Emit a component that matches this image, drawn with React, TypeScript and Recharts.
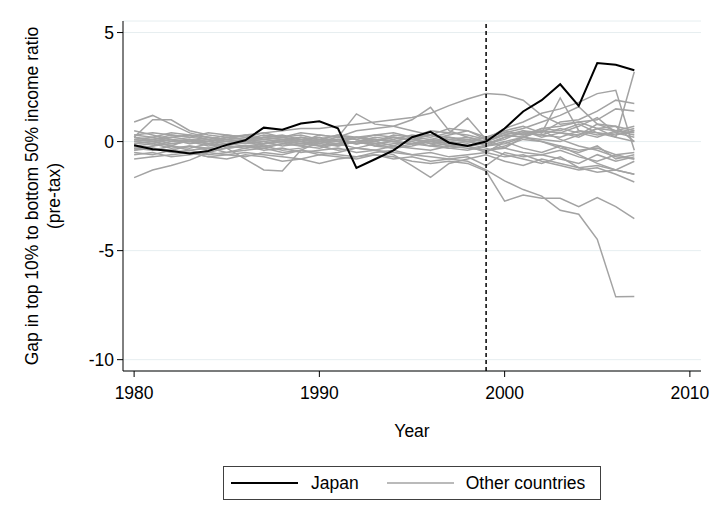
import { LineChart, Line, XAxis, YAxis, CartesianGrid, ReferenceLine, Legend } from 'recharts'

const FONT = '"Liberation Sans", Arial, sans-serif'
const GREY = '#a3a3a3'

const years = [1980,1981,1982,1983,1984,1985,1986,1987,1988,1989,1990,1991,1992,1993,1994,1995,1996,1997,1998,1999,2000,2001,2002,2003,2004,2005,2006,2007]

const japan = [-0.17,-0.35,-0.43,-0.54,-0.43,-0.15,0.06,0.64,0.54,0.83,0.93,0.61,-1.21,-0.81,-0.4,0.2,0.45,-0.05,-0.2,0.0,0.6,1.38,1.9,2.63,1.64,3.6,3.52,3.27]

// one row per country, 1980..2007
const otherCountries: number[][] = [
  [-1.65,-1.3,-1.1,-0.85,-0.5,-0.3,-0.2,-0.1,0.0,-0.1,-0.2,-0.1,0.0,0.1,0.0,-0.1,-0.2,-0.3,-0.2,-0.4,-0.3,-0.5,-0.6,-0.4,-0.7,-0.9,-0.6,-0.8],
  [0.9,1.2,0.8,0.4,0.2,0.1,0.0,0.1,0.2,0.0,-0.1,0.1,0.2,0.0,-0.2,0.1,0.3,0.2,0.0,-0.2,0.2,0.4,0.3,0.6,0.4,0.2,0.5,0.3],
  [0.2,1.0,1.0,0.5,0.3,0.2,0.1,0.3,0.2,0.1,0.0,-0.2,0.0,0.2,0.1,0.3,0.2,0.4,0.3,0.1,0.5,0.7,0.4,0.9,1.0,1.4,1.9,1.75],
  [0.1,0.0,0.2,0.3,0.1,-0.3,-0.8,-1.3,-1.35,-0.4,0.0,0.1,-0.1,0.0,0.2,0.1,-0.1,0.0,0.1,-0.2,-0.1,0.2,0.0,-0.2,-0.4,-0.3,-0.6,-0.5],
  [-0.3,-0.2,-0.1,0.0,-0.2,-0.1,0.0,0.2,0.1,0.0,0.3,0.2,1.27,0.8,0.7,0.5,0.3,0.6,0.5,0.2,0.4,0.3,0.5,0.4,0.2,0.6,0.5,0.7],
  [0.0,0.1,0.2,0.1,0.0,0.2,0.3,0.1,0.2,0.4,0.3,0.2,0.5,0.6,0.7,1.0,1.57,0.5,0.2,0.0,0.3,0.2,0.6,0.5,0.8,0.4,0.3,0.5],
  [0.3,0.4,0.3,0.2,0.4,0.3,0.2,0.4,0.5,0.6,0.6,0.7,0.8,0.9,1.0,1.1,1.3,1.65,1.95,2.2,2.15,1.9,1.2,0.8,0.9,0.6,0.7,0.5],
  [-0.2,-0.1,-0.3,-0.2,-0.4,-0.3,-0.2,-0.4,-0.3,-0.5,-0.4,-0.3,-0.5,-0.4,-0.6,-1.1,-1.64,-1.0,-0.8,-0.6,-0.9,-1.1,-0.8,-1.0,-1.2,-1.1,-1.3,-1.5],
  [-0.4,-0.3,-0.5,-0.4,-0.6,-0.5,-0.4,-0.3,-0.5,-0.4,-0.6,-0.5,-0.3,-0.4,-0.5,-0.6,-0.7,-0.8,-0.9,-1.3,-1.8,-2.2,-2.5,-3.15,-3.33,-4.48,-7.12,-7.1],
  [-0.5,-0.6,-0.4,-0.5,-0.7,-0.6,-0.5,-0.6,-0.7,-0.8,-0.6,-0.7,-0.8,-0.6,-0.7,-0.9,-1.0,-0.9,-1.0,-1.35,-2.73,-2.45,-2.6,-2.6,-2.98,-2.57,-2.98,-3.53],
  [-0.1,0.0,-0.2,0.1,0.0,-0.1,0.1,0.0,-0.2,-0.1,0.0,0.1,-0.1,0.0,0.2,0.1,0.0,0.2,0.1,0.0,0.3,0.2,0.5,0.4,0.3,0.6,0.2,3.2],
  [0.0,-0.1,0.1,0.0,0.2,0.1,0.0,-0.1,0.1,0.2,0.0,-0.1,0.2,0.1,0.0,-0.1,0.1,0.0,-0.2,0.1,0.6,0.9,1.3,1.5,1.8,2.2,2.35,-0.4],
  [-0.3,-0.4,-0.2,-0.3,-0.1,-0.2,-0.3,-0.1,0.0,-0.2,-0.3,-0.1,0.0,-0.2,-0.1,0.0,-0.2,-0.1,0.0,-0.1,0.1,0.5,0.4,2.0,0.5,0.4,0.2,0.0],
  [0.2,0.1,0.3,0.2,0.1,0.3,0.2,0.1,0.0,0.2,0.1,0.3,0.2,0.1,0.0,0.2,0.3,0.1,0.2,0.0,0.4,0.6,0.9,1.2,1.6,0.8,0.5,0.4],
  [-0.1,0.0,0.1,-0.1,0.0,0.2,0.1,-0.1,0.0,0.1,0.2,0.0,-0.1,0.0,0.3,0.2,0.5,0.4,1.08,0.1,-0.3,0.2,0.5,0.1,-0.2,-0.4,-0.7,-0.8],
  [0.1,0.2,0.0,0.1,-0.1,0.0,0.1,0.2,0.3,0.1,0.0,0.2,0.1,0.3,0.2,0.1,0.0,-0.1,0.0,0.2,0.5,0.3,0.6,0.7,0.9,1.0,1.5,1.4],
  [-0.6,-0.5,-0.7,-0.6,-0.5,-0.6,-0.7,-0.5,-0.6,-0.4,-0.5,-0.6,-0.7,-0.5,-0.4,-0.6,-0.5,-0.7,-0.6,-0.5,-0.7,-0.6,-0.9,-1.1,-1.3,-1.2,-1.5,-1.85],
  [-0.8,-0.7,-0.6,-0.5,-0.7,-0.8,-0.6,-0.7,-0.9,-0.8,-1.0,-0.8,-0.7,-0.6,-0.8,-0.7,-0.9,-0.8,-0.7,-1.1,-0.5,-0.7,-0.6,-0.8,-1.0,-0.6,-0.9,-0.7],
  [0.5,0.3,0.1,0.0,-0.1,0.1,0.0,-0.2,-0.1,0.0,-0.2,-0.4,-0.3,-0.1,0.0,0.2,-0.1,-0.3,-0.4,-0.2,0.0,-0.3,-0.5,-0.2,-0.6,-1.0,-1.3,-0.9],
  [0.0,0.1,-0.1,0.0,0.1,0.0,-0.1,0.0,0.1,0.0,0.1,0.0,-0.1,0.1,0.0,-0.1,0.0,0.1,0.0,-0.1,0.2,0.4,0.3,0.2,0.5,0.3,0.4,0.6],
  [-0.2,-0.3,-0.4,-0.2,-0.3,-0.1,-0.2,-0.3,-0.1,-0.2,0.0,-0.1,-0.3,-0.4,-0.2,-0.3,-0.4,-0.2,-0.1,-0.3,-0.6,-0.8,-1.0,-0.7,-1.2,-1.4,-1.3,-1.5],
  [0.3,0.2,0.4,0.3,0.2,0.1,0.3,0.4,0.2,0.3,0.1,0.0,0.2,0.3,0.4,0.2,0.1,0.3,0.5,0.1,0.3,0.5,0.2,0.4,0.7,1.1,0.4,0.2],
  [-0.4,-0.2,0.0,0.1,-0.1,-0.2,0.0,0.2,0.1,-0.1,0.1,0.3,0.1,-0.2,-0.3,-0.2,0.0,-0.2,-0.3,-0.4,-0.2,0.1,0.0,-0.3,-0.5,-0.2,-0.8,-0.6],
  [0.2,0.0,-0.2,-0.4,-0.3,-0.5,-0.3,-0.2,-0.4,-0.3,-0.1,-0.2,0.0,-0.1,-0.3,-0.1,0.1,-0.1,-0.2,-0.5,0.0,0.2,0.1,0.0,0.3,0.8,0.7,0.0],
]

const xTicks = [1980, 1990, 2000, 2010]
const yTicks = [-10, -5, 0, 5]
const treatmentYear = 1999

const rows = years.map((year, i) => {
  const row: Record<string, number> = { year, japan: japan[i] }
  otherCountries.forEach((s, j) => { row['c' + j] = s[i] })
  return row
})

function LegendBox() {
  return (
    <div style={{ width: 378, height: 34, border: '1px solid #404040', boxSizing: 'border-box', display: 'flex', alignItems: 'center', fontFamily: FONT, fontSize: 17.5, color: '#000' }}>
      <svg width={80} height={10} style={{ marginLeft: 7 }}><line x1={0} x2={67} y1={5} y2={5} stroke="#000" strokeWidth={2} /></svg>
      <span>Japan</span>
      <svg width={95} height={10} style={{ marginLeft: 28 }}><line x1={0} x2={67} y1={5} y2={5} stroke={GREY} strokeWidth={1.5} /></svg>
      <span style={{ marginLeft: -16 }}>Other countries</span>
    </div>
  )
}

function YTitle(props: any) {
  const vb = props.viewBox || {}
  const cy = vb.y + vb.height / 2
  return (
    <g fontFamily={FONT} fontSize={17.5} fill="#000">
      <text x={32} y={cy} transform={`rotate(-90 32 ${cy})`} textAnchor="middle" dominantBaseline="central">Gap in top 10% to bottom 50% income ratio</text>
      <text x={54} y={cy} transform={`rotate(-90 54 ${cy})`} textAnchor="middle" dominantBaseline="central">(pre-tax)</text>
    </g>
  )
}

function XTitle(props: any) {
  const vb = props.viewBox || {}
  return (
    <text x={vb.x + vb.width / 2} y={vb.y + 60} textAnchor="middle" dominantBaseline="central" fontFamily={FONT} fontSize={17.5} fill="#000">Year</text>
  )
}

export default function App() {
  return (
    <div style={{ position: 'absolute', left: 0, top: 0, width: 720, height: 525, background: '#fff' }}>
      <LineChart width={720} height={525} data={rows} margin={{ top: 21, right: 19, left: 0, bottom: 124 }}>
        <CartesianGrid vertical={false} stroke="#e6eef0" strokeWidth={1} />
        <XAxis dataKey="year" type="number" domain={[1979.4, 2010.6]} ticks={xTicks} allowDataOverflow
          height={30} tickSize={6} tickMargin={10} stroke="#000" tickLine={{ stroke: '#000' }}
          tick={{ fontFamily: FONT, fontSize: 17.5, fill: '#000' }} label={<XTitle />} />
        <YAxis type="number" domain={[-10.52, 5.53]} ticks={yTicks} allowDataOverflow width={123}
          tickSize={6} tickMargin={3} stroke="#000" tickLine={{ stroke: '#000' }}
          tick={{ fontFamily: FONT, fontSize: 17.5, fill: '#000' }} label={<YTitle />} />
        {otherCountries.map((_, j) => (
          <Line key={j} dataKey={'c' + j} type="linear" stroke={GREY} strokeWidth={1.5} dot={false} activeDot={false} isAnimationActive={false} legendType="none" />
        ))}
        <ReferenceLine x={treatmentYear} stroke="#000" strokeWidth={1.5} strokeDasharray="4 3" />
        <Line dataKey="japan" type="linear" stroke="#000" strokeWidth={2} dot={false} activeDot={false} isAnimationActive={false} />
        <Legend layout="horizontal" verticalAlign="middle" align="center" content={() => <LegendBox />}
          wrapperStyle={{ left: 223, top: 466, width: 378, height: 34 }} />
      </LineChart>
    </div>
  )
}
